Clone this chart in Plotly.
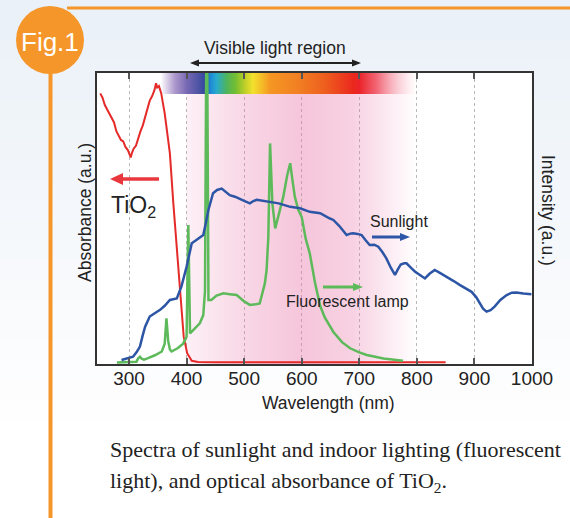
import plotly.graph_objects as go

# ---------------- data ----------------
tio2_nm = [250, 254, 258, 262, 266, 270, 274, 278, 282, 286, 290, 294, 298, 301, 303,
           305, 308, 312, 316, 320, 324, 328, 332, 336, 340, 344, 347, 349, 352, 356,
           359, 362, 366, 371, 377, 384, 390, 395, 401, 409, 420, 450, 550, 650, 750, 850]
tio2_abs = [0.93, 0.915, 0.89, 0.875, 0.86, 0.84, 0.83, 0.80, 0.785, 0.77, 0.765, 0.745,
            0.735, 0.72, 0.71, 0.725, 0.74, 0.75, 0.78, 0.80, 0.82, 0.85, 0.87, 0.905,
            0.92, 0.94, 0.965, 0.95, 0.955, 0.93, 0.895, 0.861, 0.80, 0.724, 0.552, 0.38,
            0.209, 0.094, 0.037, 0.011, 0.007, 0.006, 0.006, 0.006, 0.006, 0.006]

sun_nm = [287, 300, 307, 313, 319, 324, 328, 336, 345, 354, 362, 371, 383, 391, 400, 405,
          409, 417, 429, 434, 438, 446, 453, 461, 468, 475, 484, 492, 501, 510, 516, 522,
          535, 545, 560, 580, 597, 614, 632, 649, 655, 665, 678, 684, 689, 697, 704, 711,
          718, 726, 733, 740, 747, 755, 762, 767, 772, 778, 782, 790, 797, 806, 814, 822,
          831, 840, 852, 864, 875, 885, 895, 903, 909, 915, 921, 928, 935, 945, 956, 965,
          973, 985, 999]
sun_int = [0.014, 0.02, 0.025, 0.04, 0.06, 0.10, 0.128, 0.163, 0.175, 0.186, 0.20, 0.22,
           0.225, 0.266, 0.334, 0.38, 0.415, 0.426, 0.443, 0.49, 0.53, 0.587, 0.598, 0.603,
           0.592, 0.58, 0.575, 0.569, 0.56, 0.552, 0.56, 0.564, 0.56, 0.558, 0.552, 0.54,
           0.535, 0.523, 0.518, 0.50, 0.495, 0.475, 0.443, 0.448, 0.449, 0.447, 0.443,
           0.425, 0.409, 0.41, 0.403, 0.385, 0.363, 0.33, 0.306, 0.325, 0.342, 0.346,
           0.346, 0.33, 0.317, 0.305, 0.294, 0.31, 0.323, 0.313, 0.30, 0.285, 0.271, 0.26,
           0.248, 0.23, 0.208, 0.19, 0.18, 0.185, 0.197, 0.22, 0.237, 0.245, 0.246, 0.242,
           0.24]

fl_nm = [279, 300, 313, 316, 319, 322, 326, 333, 345, 357, 362, 365, 368, 371, 374, 385,
         394, 400, 403, 406, 412, 423, 429, 432, 434, 436, 438, 443, 452, 464, 475, 487,
         500, 510, 520, 527, 533, 536, 539, 542, 545, 549, 554, 561, 568, 575, 580, 584,
         588, 594, 600, 607, 614, 623, 632, 640, 655, 670, 684, 700, 713, 742, 776]
fl_int = [0.005, 0.006, 0.008, 0.02, 0.025, 0.018, 0.015, 0.02, 0.03, 0.043, 0.07, 0.157,
          0.08, 0.05, 0.043, 0.055, 0.07, 0.094, 0.478, 0.105, 0.117, 0.14, 0.168, 0.25,
          1.0, 1.0, 0.22, 0.22, 0.235, 0.243, 0.24, 0.237, 0.215, 0.203, 0.205, 0.208,
          0.254, 0.277, 0.323, 0.437, 0.758, 0.552, 0.466, 0.52, 0.575, 0.65, 0.69, 0.63,
          0.575, 0.53, 0.505, 0.43, 0.38, 0.28, 0.20, 0.16, 0.11, 0.075, 0.054, 0.04,
          0.031, 0.019, 0.011]

tick_vals = [300, 400, 500, 600, 700, 800, 900, 1000]
tick_text = ["300", "400", "500", "600", "700", "800", "900", "1000"]

# ---------------- geometry helpers ----------------
W, H = 570, 518
L, R, T, B = 97, 532, 73, 364


def px(x):
    return (x - L) / (R - L)


def py(y):
    return (B - y) / (B - T)


ORANGE = "#f5962a"
FONT = "Liberation Sans, Arial, sans-serif"
SERIF = "Liberation Serif, Times New Roman, serif"

fig = go.Figure()

# pink visible-region shading
fig.add_trace(go.Scatter(
    x=[400, 800, 800, 400, 400], y=[0, 0, 1, 1, 0], fill="toself", mode="none",
    fillgradient=dict(type="horizontal", start=400, stop=800, colorscale=[
        [0.0, "rgba(232,112,165,0.10)"], [0.25, "rgba(232,112,165,0.28)"],
        [0.5, "rgba(232,112,165,0.40)"], [0.72, "rgba(232,112,165,0.32)"],
        [0.86, "rgba(232,112,165,0.16)"], [1.0, "rgba(232,112,165,0)"]]),
    hoverinfo="skip", showlegend=False))

# rainbow bar
s0, s1 = 355, 800
stops = [(355, "rgba(150,120,190,0)"), (380, "rgba(150,125,190,0.8)"),
         (400, "rgb(120,105,180)"), (420, "rgb(80,85,165)"), (432, "rgb(50,70,160)"),
         (442, "rgb(30,140,215)"), (452, "rgb(40,170,205)"), (470, "rgb(80,180,90)"),
         (485, "rgb(115,190,50)"), (500, "rgb(185,205,40)"), (515, "rgb(242,225,45)"),
         (530, "rgb(245,190,40)"), (545, "rgb(245,150,35)"), (590, "rgb(242,130,35)"),
         (640, "rgb(238,95,30)"), (690, "rgb(235,40,30)"), (700, "rgb(235,35,40)"),
         (730, "rgba(240,70,85,0.8)"), (770, "rgba(245,150,165,0.35)"),
         (800, "rgba(250,200,210,0)")]
fig.add_trace(go.Scatter(
    x=[s0, s1, s1, s0, s0], y=[py(94), py(94), 1, 1, py(94)], fill="toself", mode="none",
    fillgradient=dict(type="horizontal", start=s0, stop=s1,
                      colorscale=[[(w - s0) / (s1 - s0), c] for w, c in stops]),
    hoverinfo="skip", showlegend=False))

fig.add_trace(go.Scatter(x=tio2_nm, y=tio2_abs, mode="lines",
                         line=dict(color="#e52a2a", width=2), showlegend=False))
fig.add_trace(go.Scatter(x=fl_nm, y=fl_int, mode="lines",
                         line=dict(color="#5dba5a", width=2.5), showlegend=False))
fig.add_trace(go.Scatter(x=sun_nm, y=sun_int, mode="lines",
                         line=dict(color="#2d55a5", width=2.5), showlegend=False))

# ---------------- shapes ----------------
shapes = []
n = 22
for i in range(n):
    y0 = 440 * i / n
    y1 = 440 * (i + 1) / n
    f = i / (n - 1)
    r = int(234 + (255 - 234) * f)
    g = int(241 + (255 - 241) * f)
    b = int(248 + (255 - 248) * f)
    shapes.append(dict(type="rect", xref="paper", yref="paper", layer="below",
                       x0=px(0), x1=px(W), y0=py(y1 + 1), y1=py(y0),
                       fillcolor=f"rgb({r},{g},{b})", line=dict(width=0)))
shapes.append(dict(type="rect", xref="paper", yref="paper", layer="below",
                   x0=px(0), x1=px(W), y0=py(H), y1=py(440),
                   fillcolor="white", line=dict(width=0)))
shapes.append(dict(type="rect", xref="paper", yref="paper", layer="below",
                   x0=0, x1=1, y0=0, y1=1, fillcolor="white", line=dict(width=0)))
shapes.append(dict(type="line", xref="paper", yref="paper", x0=px(67), x1=px(W),
                   y0=py(8), y1=py(8), line=dict(color=ORANGE, width=3)))
shapes.append(dict(type="line", xref="paper", yref="paper", x0=px(50.5), x1=px(50.5),
                   y0=py(60), y1=py(H), line=dict(color=ORANGE, width=4)))
shapes.append(dict(type="circle", xref="paper", yref="paper", x0=px(16), x1=px(84),
                   y0=py(74), y1=py(6), fillcolor=ORANGE, line=dict(width=0)))


def head(xh, y, d, hl, hw, color):
    """triangular arrow head; d=+1 points right, -1 points left"""
    xb = xh - d * hl
    path = (f"M {px(xh)},{py(y)} L {px(xb)},{py(y - hw / 2)} "
            f"L {px(xb)},{py(y + hw / 2)} Z")
    shapes.append(dict(type="path", xref="paper", yref="paper", path=path,
                       fillcolor=color, line=dict(width=0)))


def harrow(x_from, x_to, y, color, width, hl, hw, both=False):
    d = 1 if x_to > x_from else -1
    xs = x_from + (d * hl * 0.8 if both else 0)
    xe = x_to - d * hl * 0.8
    shapes.append(dict(type="line", xref="paper", yref="paper", x0=px(xs), x1=px(xe),
                       y0=py(y), y1=py(y), line=dict(color=color, width=width)))
    head(x_to, y, d, hl, hw, color)
    if both:
        head(x_from, y, -d, hl, hw, color)


harrow(190, 361, 63, "#222", 2, 9, 7, both=True)
harrow(159, 110, 179, "#e8383d", 3.5, 13, 12)
harrow(372, 410, 237, "#2e56a6", 3, 10, 8)
harrow(323, 363, 287, "#5dba5a", 3, 10, 8)

# ---------------- annotations ----------------
ann = []


def text(t, x, y, size, color="#222", family=FONT, angle=0, xanchor="center"):
    ann.append(dict(text=t, x=px(x), y=py(y), xref="paper", yref="paper",
                    showarrow=False, textangle=angle, xanchor=xanchor, yanchor="middle",
                    font=dict(size=size, color=color, family=family)))


text("Fig.1", 50, 42, 26, color="white")
text("Visible light region", 275, 48, 17.5)
text("TiO<sub>2</sub>", 109, 206, 23, xanchor="left")
text("Sunlight", 399, 221, 16)
text("Fluorescent lamp", 347, 301, 16)
text("Absorbance (a.u.)", 85, 213, 17.5, angle=-90)
text("Intensity (a.u.)", 548, 210, 17.5, angle=90)
text("Wavelength (nm)", 328, 403, 17.5)
text("Spectra of sunlight and indoor lighting (fluorescent", 108, 449, 22,
     family=SERIF, xanchor="left")
text("light), and optical absorbance of TiO<sub>2</sub>.", 108, 482, 22,
     family=SERIF, xanchor="left")

fig.update_layout(
    width=W, height=H,
    margin=dict(l=L, r=W - R, t=T, b=H - B, pad=0),
    paper_bgcolor="white", plot_bgcolor="rgba(0,0,0,0)",
    shapes=shapes, annotations=ann,
    xaxis=dict(range=[244.4, 1000], tickvals=tick_vals, ticktext=tick_text,
               ticks="inside", ticklen=6, tickwidth=1.5, tickcolor="#555",
               showline=True, linecolor="#333", linewidth=1.5, mirror="ticks",
               showgrid=True, gridcolor="#b8b8b8", griddash="dot", gridwidth=1,
               ticklabelstandoff=-4,
               tickfont=dict(size=19, color="#222", family=FONT), zeroline=False),
    yaxis=dict(range=[0, 1], showticklabels=False, ticks="", showgrid=False,
               showline=True, linecolor="#333", linewidth=1.5, mirror=True,
               zeroline=False),
)

fig.write_html("out.html", config={"displayModeBar": False},
               post_script="document.body.style.margin='0';document.body.style.padding='0';")
